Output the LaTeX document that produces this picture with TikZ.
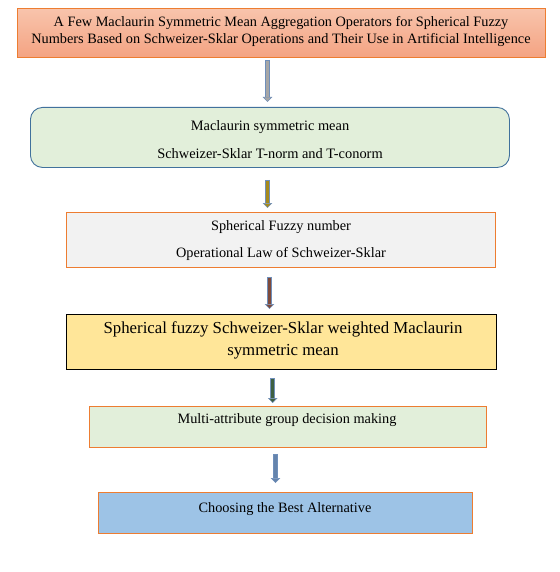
\documentclass[tikz,border=0pt]{standalone}
\usepackage{fontspec}
\setmainfont{Liberation Serif}
\usetikzlibrary{arrows.meta,calc}
\definecolor{orangeb}{HTML}{ED7D31}
\definecolor{blueb}{HTML}{41719C}
\definecolor{salmtop}{HTML}{F8C4AC}
\definecolor{salmbot}{HTML}{F4A382}
\definecolor{greenf}{HTML}{E2EFDA}
\definecolor{grayf}{HTML}{F2F2F2}
\definecolor{yellowf}{HTML}{FFE699}
\definecolor{bluef}{HTML}{9DC3E6}
\definecolor{arrb}{HTML}{6F8FBA}
\definecolor{arrA}{HTML}{A6A6A6}
\definecolor{arrB}{HTML}{A68A1C}
\definecolor{arrC}{HTML}{7E4A3C}
\definecolor{arrD}{HTML}{3E6042}
\definecolor{arrE}{HTML}{6584AC}
\tikzset{
  boxbase/.style={rectangle, inner sep=0pt, anchor=north west, line width=0.9pt},
  txt/.style={anchor=base, inner sep=0pt, align=center, font=\fontsize{14.3}{17}\selectfont},
  arrout/.style={line width=4.6pt, draw=arrb, -{Triangle[width=9.5pt,length=5pt,line width=0.5pt,fill=#1]}},
  arrin/.style={line width=3.2pt, draw=#1, shorten >=4.9pt, shorten <=0.7pt},
}
\newcommand{\blockarrow}[3]{%
  \draw[arrout=#3] #1 -- #2;
  \draw[arrin=#3] #1 -- #2;}
\begin{document}
\begin{tikzpicture}[x=1pt,y=-1pt]
\useasboundingbox (0,0) rectangle (559,572);
% boxes
\node[boxbase, draw=orangeb, top color=salmtop, bottom color=salmbot,
      minimum width=528pt, minimum height=49pt] (b1) at (17,8) {};
\node[boxbase, draw=blueb, fill=greenf, rounded corners=12pt,
      minimum width=479pt, minimum height=60pt] (b2) at (30,107) {};
\node[boxbase, draw=orangeb, fill=grayf,
      minimum width=429pt, minimum height=55pt] (b3) at (66,212) {};
\node[boxbase, draw=black, fill=yellowf,
      minimum width=430pt, minimum height=55pt] (b4) at (66,314) {};
\node[boxbase, draw=orangeb, fill=greenf,
      minimum width=397pt, minimum height=41pt] (b5) at (89,406) {};
\node[boxbase, draw=orangeb, fill=bluef,
      minimum width=374pt, minimum height=41pt] (b6) at (98,492) {};
% texts (anchor base = baseline of the last line)
\node[txt] (t1) at (281,44) {A Few Maclaurin Symmetric Mean Aggregation Operators for Spherical Fuzzy\\Numbers Based on Schweizer-Sklar Operations and Their Use in Artificial Intelligence};
\node[txt, font=\fontsize{14.4}{28}\selectfont] (t2) at (270,158) {Maclaurin symmetric mean\\Schweizer-Sklar T-norm and T-conorm};
\node[txt, font=\fontsize{14.3}{27}\selectfont] (t3) at (281,257) {Spherical Fuzzy number\\Operational Law of Schweizer-Sklar};
\node[txt, font=\fontsize{16.8}{22}\selectfont] (t4) at (283,355) {Spherical fuzzy Schweizer-Sklar weighted Maclaurin\\symmetric mean};
\node[txt] (t5) at (287,423) {Multi-attribute group decision making};
\node[txt] (t6) at (285,512) {Choosing the Best Alternative};
% arrows
\blockarrow{($(b1.south west)+(250.5,2)$)}{($(b2.north west)+(237.5,-5)$)}{arrA}
\blockarrow{($(b2.south west)+(237.5,12)$)}{($(b3.north west)+(201.5,-4)$)}{arrB}
\blockarrow{($(b3.south west)+(203.5,9)$)}{($(b4.north west)+(203.5,-5)$)}{arrC}
\blockarrow{($(b4.south west)+(206.7,8)$)}{($(b5.north west)+(183.7,-3)$)}{arrD}
\blockarrow{($(b5.south west)+(186.5,6)$)}{($(b6.north west)+(177.5,-9)$)}{arrE}
\end{tikzpicture}
\end{document}
